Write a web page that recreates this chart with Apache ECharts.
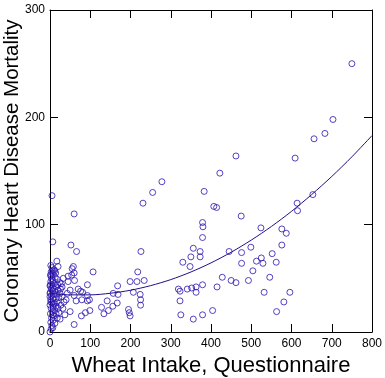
<!DOCTYPE html>
<html>
<head>
<meta charset="utf-8">
<script src="https://cdn.jsdelivr.net/npm/echarts@6/dist/echarts.min.js"></script>
<style>
html,body{margin:0;padding:0;background:#fff;}
#chart{width:385px;height:378px;}
</style>
</head>
<body>
<div id="chart"></div>
<script>
// Scatter data: wheat intake (x) and CHD mortality (y)
const wheatIntake = [
  750,703,683,656,609,462,422,278,255,231,5,60,7,52,66,226,107,17,218,199,216,234,168,93,
  383,407,414,475,379,380,379,524,576,587,356,373,373,350,348,330,445,476,499,552,576,476,513,525,529,562,504,428,450,462,493,546,379,363,363,352,415,532,596,581,563,356,379,404,653,614,615,319,323,341,323,325,
  157,169,207,224,225,225,142,167,156,145,134,128,195,197,199,
  76,81,93,98,79,93,99,88,78,37,60,50,54,55,58,60,45,45,61,12,20,
  50,70,60,65,40,43,30,35,
  0,3,5,2,8,4,10,1,6,12,3,8,15,0,5,11,18,2,7,14,22,0,4,9,16,25,1,6,12,20,3,8,15,0,5,11,24,2,7,18,4,13,1,8,3,10,5,2,15,20,27,30,22,18,25,12,7,28,33,14,6,9,19,26,32,1,3,6,0,2
];
const chdMortality = [
  250,198,185,180,162,164,148,140,130,120,127,110,84,81,75,75,56,66,56,47,47,48,43,44,
  131,117,116,108,102,98,88,97,96,92,78,75,70,70,61,65,75,74,79,73,81,64,66,69,64,65,57,51,48,46,48,51,44,42,37,41,42,37,37,28,19,12,16,20,128,120,113,40,38,40,29,16,
  36,35,37,35,30,25,29,27,24,20,17,23,21,18,15,
  38,37,34,30,30,29,20,18,15,16,7,19,53,59,61,55,52,47,48,57,61,
  39,40,34,29,30,36,42,28,
  0,3,6,9,11,13,15,17,19,20,22,23,24,25,27,27,28,30,31,31,32,33,34,35,35,36,37,38,38,39,40,41,42,43,44,45,46,47,48,49,50,51,53,54,56,58,60,62,17,22,25,33,18,13,12,8,4,45,50,55,16,26,44,40,22,44,52,57,36,28
];
// Fitted curve, read at regular x positions
const fitX = [0,50,100,150,200,250,300,350,400,450,500,550,600,650,700,750,800];
const fitY = [36,34.6,34.6,36.1,38.9,43.2,48.8,55.9,64.4,74.3,85.6,98.3,112.4,128.0,144.9,163.2,183.0];
// Axis ranges and ticks
const xTicks = {min: 0, max: 800, interval: 100};
const yTicks = {min: 0, max: 300, interval: 100};
const xTitle = 'Wheat Intake, Questionnaire';
const yTitle = 'Coronary Heart Disease Mortality';

const points = wheatIntake.map((x, i) => [x, chdMortality[i]]);
const curve = fitX.map((x, i) => [x, fitY[i]]);

const font = 'Arial, "Liberation Sans", sans-serif';
const lineStyle = {color: '#000', width: 1};
function axisBase(extra) {
  return Object.assign({
    axisLine: {show: true, onZero: false, lineStyle: lineStyle},
    axisTick: {show: true, inside: true, length: 8, lineStyle: lineStyle},
    splitLine: {show: false},
    axisLabel: {show: false}
  }, extra);
}

const chart = echarts.init(document.getElementById('chart'), null, {renderer: 'canvas'});
chart.setOption({
  animation: false,
  backgroundColor: '#fff',
  grid: {left: 50, right: 13, top: 10, bottom: 46, containLabel: false, outerBoundsMode: 'none'},
  xAxis: [
    axisBase({type: 'value', position: 'bottom', min: xTicks.min, max: xTicks.max, interval: xTicks.interval,
      name: xTitle, nameLocation: 'middle', nameGap: 23, nameMoveOverlap: false,
      nameTextStyle: {fontFamily: font, fontSize: 22, color: '#000'},
      axisLabel: {show: true, margin: 6, fontFamily: font, fontSize: 12, color: '#000'}}),
    axisBase({type: 'value', position: 'top', min: xTicks.min, max: xTicks.max, interval: xTicks.interval})
  ],
  yAxis: [
    axisBase({type: 'value', position: 'left', min: yTicks.min, max: yTicks.max, interval: yTicks.interval,
      name: yTitle, nameLocation: 'middle', nameGap: 27, nameMoveOverlap: false,
      nameTextStyle: {fontFamily: font, fontSize: 20.5, color: '#000'},
      axisLabel: {show: true, margin: 5, fontFamily: font, fontSize: 12, color: '#000'}}),
    axisBase({type: 'value', position: 'right', min: yTicks.min, max: yTicks.max, interval: yTicks.interval})
  ],
  series: [
    {
      type: 'scatter', data: points, symbol: 'circle', symbolSize: 6,
      itemStyle: {color: 'rgba(0,0,0,0)', borderColor: '#2c14b0', borderWidth: 1},
      silent: true
    },
    {
      type: 'line', data: curve, smooth: 0.3, showSymbol: false, symbol: 'none',
      lineStyle: {color: '#1e0f86', width: 1}, silent: true
    }
  ]
});
</script>
</body>
</html>
